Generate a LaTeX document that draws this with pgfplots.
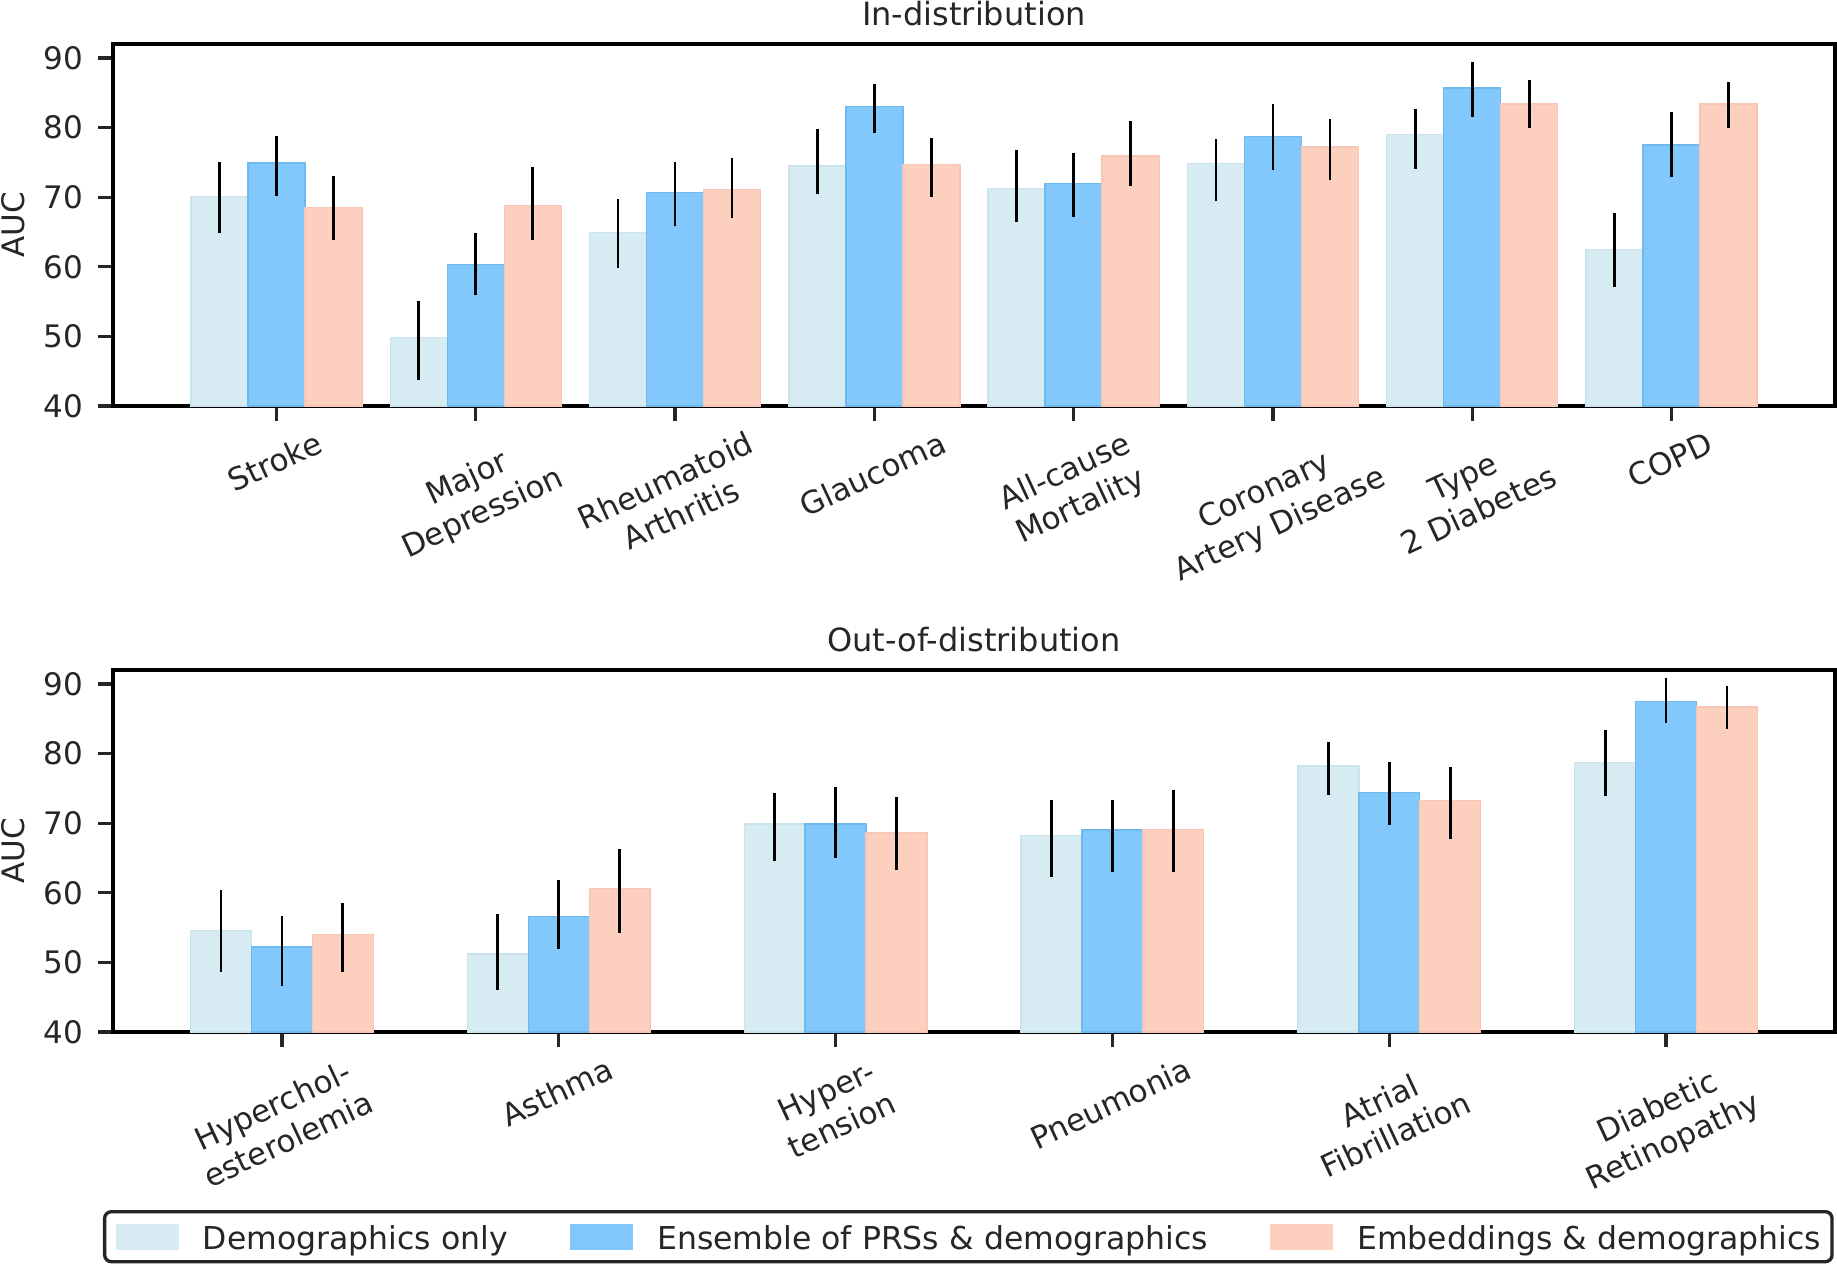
\documentclass[border=0pt]{standalone}
\usepackage{fontspec}
\setmainfont{DejaVu Sans}
\usepackage{graphicx}
\usepackage{pgfplots}
\usepackage{pgfplotstable}
\pgfplotsset{compat=1.18}

\definecolor{cdemo}{RGB}{214,235,242}
\definecolor{cdemoe}{RGB}{202,227,237}
\definecolor{cprs}{RGB}{131,200,252}
\definecolor{cprse}{RGB}{110,185,238}
\definecolor{cemb}{RGB}{253,207,190}
\definecolor{cembe}{RGB}{247,198,181}
\definecolor{txt}{RGB}{38,38,38}

\newcommand{\lbl}[1]{\rotatebox{25}{\begin{tabular}{@{}c@{}}#1\end{tabular}}}

% top panel: x  value  lower  upper
\pgfplotstableread{
x y lo hi
0 70.1 64.9 75.0
1 49.8 43.7 55.1
2 64.9 59.8 69.7
3 74.5 70.5 79.8
4 71.2 66.5 76.8
5 74.8 69.4 78.4
6 79.0 74.1 82.6
7 62.5 57.1 67.7
}\topdemo
\pgfplotstableread{
x y lo hi
0 74.9 70.1 78.8
1 60.3 55.9 64.9
2 70.7 65.8 75.0
3 83.0 79.2 86.3
4 72.0 67.1 76.4
5 78.7 73.9 83.4
6 85.7 81.5 89.4
7 77.5 72.9 82.3
}\topprs
\pgfplotstableread{
x y lo hi
0 68.5 63.8 73.1
1 68.8 63.8 74.4
2 71.1 67.0 75.6
3 74.7 70.0 78.5
4 75.9 71.6 81.0
5 77.2 72.5 81.3
6 83.4 80.0 86.9
7 83.4 80.0 86.6
}\topemb
% bottom panel
\pgfplotstableread{
x y lo hi
0 54.6 48.6 60.4
1 51.2 46.0 56.9
2 69.9 64.6 74.4
3 68.2 62.2 73.4
4 78.2 74.0 81.7
5 78.7 73.9 83.4
}\botdemo
\pgfplotstableread{
x y lo hi
0 52.2 46.6 56.7
1 56.6 51.9 61.9
2 69.9 65.0 75.2
3 69.0 63.0 73.4
4 74.4 69.7 78.8
5 87.5 84.4 90.9
}\botprs
\pgfplotstableread{
x y lo hi
0 54.0 48.6 58.6
1 60.6 54.2 66.3
2 68.6 63.3 73.8
3 69.1 63.0 74.7
4 73.3 67.7 78.1
5 86.7 83.5 89.7
}\botemb

\pgfplotsset{
  panel/.style={
    scale only axis, width=516.6pt, height=108.6pt,
    ymin=40, ymax=92, ytick={40,50,...,90},
    axis line style={black, line width=1pt},
    major tick style={txt, line width=1pt},
    tick align=outside, major tick length=4.5pt,
    xtick pos=bottom, ytick pos=left,
    font=\fontsize{9.3}{11.2}\selectfont,
    tick label style={text=txt, font=\fontsize{9.3}{11.2}\selectfont},
    /pgf/number format/assume math mode=true,
    yticklabel style={anchor=east, inner sep=0pt, xshift=-4.35pt},
    xticklabel style={anchor=north, inner sep=0pt, yshift=-1.7pt},
    ylabel={AUC},
    ylabel style={at={(axis description cs:-0.0578,0.5)}, anchor=center, inner sep=0pt, text=txt},
    title style={at={(axis description cs:0.5,1)}, anchor=base, yshift=-0.3pt, inner sep=0pt,
                 font=\fontsize{9.6}{11.5}\selectfont, text=txt},
    ybar,
  },
  errb/.style={error bars/.cd, y dir=both, y explicit, error mark=none,
               error bar style={line width=0.8pt, black}},
}

\begin{document}
\begin{tikzpicture}
\useasboundingbox (-33.9pt,-259.2pt) rectangle (517.2pt,121.8pt);

\begin{axis}[panel, at={(0pt,0pt)}, anchor=south west,
  xmin=-0.82, xmax=7.82, xtick={0,...,7}, bar width=0.286,
  xticklabels={{\lbl{Stroke}},{\lbl{Major\\Depression}},{\lbl{Rheumatoid\\Arthritis}},{\lbl{Glaucoma}},{\lbl{All-cause\\Mortality}},{\lbl{Coronary\\Artery Disease}},{\lbl{Type\\2 Diabetes}},{\lbl{COPD}}},
  title={In-distribution}]
\addplot[fill=cdemo, draw=cdemoe, line width=0.4pt, bar shift=-0.286, errb]
  table[x=x, y=y, y error plus expr=\thisrow{hi}-\thisrow{y}, y error minus expr=\thisrow{y}-\thisrow{lo}] {\topdemo};
\addplot[fill=cprs, draw=cprse, line width=0.4pt, bar shift=0, errb]
  table[x=x, y=y, y error plus expr=\thisrow{hi}-\thisrow{y}, y error minus expr=\thisrow{y}-\thisrow{lo}] {\topprs};
\addplot[fill=cemb, draw=cembe, line width=0.4pt, bar shift=0.286, errb]
  table[x=x, y=y, y error plus expr=\thisrow{hi}-\thisrow{y}, y error minus expr=\thisrow{y}-\thisrow{lo}] {\topemb};
\end{axis}

\begin{axis}[panel, at={(0pt,-187.8pt)}, anchor=south west,
  xmin=-0.61, xmax=5.61, xtick={0,...,5}, bar width=0.22,
  xticklabels={{\lbl{Hyperchol-\\esterolemia}},{\lbl{Asthma}},{\lbl{Hyper-\\tension}},{\lbl{Pneumonia}},{\lbl{Atrial\\Fibrillation}},{\lbl{Diabetic\\Retinopathy}}},
  title={Out-of-distribution},
  legend columns=3,
  legend style={at={(axis description cs:0,0)}, anchor=north west, xshift=-3pt, yshift=-53.4pt,
    draw=txt, line width=1pt, rounded corners=2pt, inner xsep=3.3pt, inner ysep=3.6pt,
    font=\fontsize{9.45}{11.3}\selectfont, text=txt,
    nodes={inner sep=0pt, text height=0.76em, text depth=0pt},
    cells={anchor=west},
    /tikz/every odd column/.append style={column sep=7.2pt},
    /tikz/every even column/.append style={column sep=18.6pt}},
  ]
\addlegendimage{legend image code/.code={\fill[cdemo, sharp corners] (0pt,-3.4pt) rectangle (18pt,3.4pt);}}
\addlegendentry{Demographics only}
\addlegendimage{legend image code/.code={\fill[cprs, sharp corners] (0pt,-3.4pt) rectangle (18pt,3.4pt);}}
\addlegendentry{Ensemble of PRSs \& demographics}
\addlegendimage{legend image code/.code={\fill[cemb, sharp corners] (0pt,-3.4pt) rectangle (18pt,3.4pt);}}
\addlegendentry{Embeddings \& demographics}
\addplot[forget plot, fill=cdemo, draw=cdemoe, line width=0.4pt, bar shift=-0.22, errb]
  table[x=x, y=y, y error plus expr=\thisrow{hi}-\thisrow{y}, y error minus expr=\thisrow{y}-\thisrow{lo}] {\botdemo};
\addplot[forget plot, fill=cprs, draw=cprse, line width=0.4pt, bar shift=0, errb]
  table[x=x, y=y, y error plus expr=\thisrow{hi}-\thisrow{y}, y error minus expr=\thisrow{y}-\thisrow{lo}] {\botprs};
\addplot[forget plot, fill=cemb, draw=cembe, line width=0.4pt, bar shift=0.22, errb]
  table[x=x, y=y, y error plus expr=\thisrow{hi}-\thisrow{y}, y error minus expr=\thisrow{y}-\thisrow{lo}] {\botemb};
\end{axis}
\end{tikzpicture}
\end{document}
